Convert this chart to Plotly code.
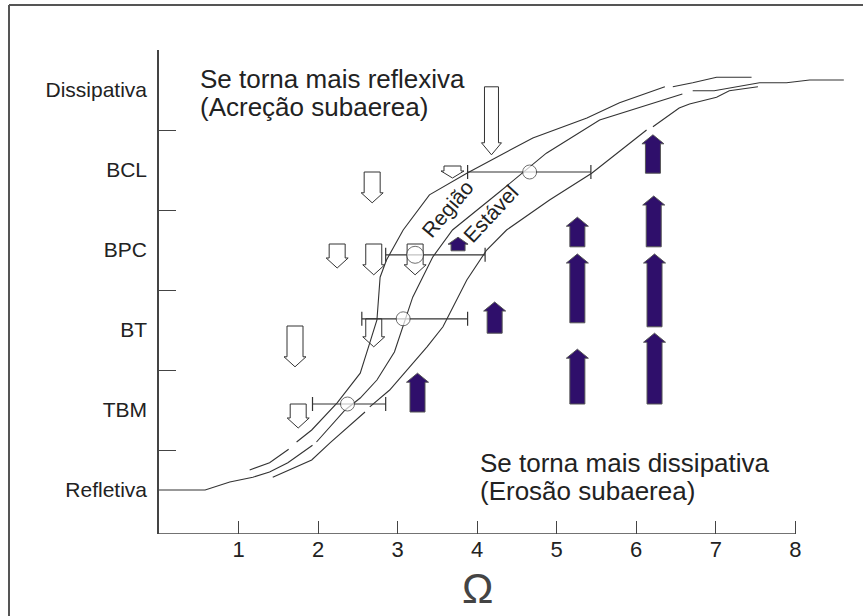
import plotly.graph_objects as go

# ---------------- data ----------------
state_labels = ["Refletiva", "TBM", "BT", "BPC", "BCL", "Dissipativa"]
state_vals = [0, 1, 2, 3, 4, 5]
x_ticks = [1, 2, 3, 4, 5, 6, 7, 8]
y_sep_ticks = [0.5, 1.5, 2.5, 3.5, 4.5, 5.5]

# three envelope curves (Omega vs. beach state), None = gap in line
mid_x = [0, 0.58, 0.89, 1.18, 1.39, 1.62, 1.93, None, 1.98, 2.34, 2.53, 2.74, 2.96, 3.09, 3.19, 3.44, 3.69,
         4.28, 4.87, 5.54, 6.58, None, 6.71, 6.98, 7.55, 7.89, 8.18, 8.61]
mid_y = [0, 0, 0.10, 0.16, 0.225, 0.34, 0.56, None, 0.60, 1.0, 1.15, 1.375, 1.725, 2.10, 2.41, 2.91, 3.25,
         3.725, 4.21, 4.625, 4.95, None, 4.99, 4.99, 5.09, 5.09, 5.125, 5.125]

left_x = [1.14, 1.39, 1.63, None, 1.73, 1.92, 2.24, 2.53, 2.65, 2.74, 2.78, 2.86, 3.07, 3.40, 3.87, 4.70,
          5.38, 5.79, 6.36, None, 6.46, 6.71, 7.01, 7.45]
left_y = [0.25, 0.34, 0.51, None, 0.60, 0.75, 1.09, 1.46, 1.84, 2.125, 2.66, 2.875, 3.25, 3.69, 3.96, 4.40,
          4.65, 4.84, 5.04, None, 5.04, 5.09, 5.16, 5.16]

right_x = [1.43, 1.92, 2.15, 2.59, None, 2.65, 2.90, 3.37, 3.57, 3.87, 4.12, 4.37, 4.91, 5.44, 6.13, None,
           6.21, 6.54, 6.67, 7.01, 7.17, 7.53]
right_y = [0.16, 0.375, 0.59, 0.975, None, 1.04, 1.25, 1.79, 2.04, 2.625, 3.0, 3.25, 3.625, 3.96, 4.50, None,
           4.54, 4.775, 4.825, 4.91, 4.99, 5.04]

# mean Omega per state with range
obs_x = [2.37, 3.07, 3.22, 4.66]
obs_y = [1.075, 2.14, 2.94, 3.975]
obs_lo = [1.93, 2.55, 2.85, 3.88]
obs_hi = [2.85, 3.88, 4.10, 5.43]

# white (down) arrows: x, tail y, tip y
down_x = [4.18, 3.69, 2.68, 2.24, 2.70, 3.22, 2.70, 1.71, 1.75]
down_tail = [5.04, 4.05, 3.975, 3.075, 3.075, 3.075, 2.14, 2.05, 1.075]
down_tip = [4.19, 3.90, 3.59, 2.775, 2.69, 2.69, 1.79, 1.54, 0.775]

# purple (up) arrows: x, tail y, tip y
up_x = [3.76, 4.22, 3.25, 5.26, 5.26, 5.26, 6.21, 6.22, 6.23, 6.23]
up_tail = [2.99, 1.96, 0.975, 2.09, 1.075, 3.04, 3.96, 3.04, 2.04, 1.075]
up_tip = [3.16, 2.35, 1.46, 2.95, 1.76, 3.41, 4.44, 3.675, 2.95, 1.96]

# ---------------- layout geometry ----------------
W, H = 863, 616
ML, MR, MT, MB = 159, 16, 50, 82
XR = [0, 8.65]
YR = [-0.55, 5.5]
PXX = (XR[1] - XR[0]) / (W - ML - MR)   # data units per pixel, x
PXY = (YR[1] - YR[0]) / (H - MT - MB)   # data units per pixel, y

FONT = "Liberation Sans, Arial, sans-serif"
LINE = "#333333"
PURPLE = "#2f0f6b"

# arrow style (pixels): shaft half width, head half width, head length
down_style = [(7, 10, 12)] + [(8.5, 11.5, 7)] + [(8, 11, 10)] * 7
up_style = [(7, 10, 7)] + [(7.5, 11, 9)] * 9


def arrow_poly(xc, yt, yp, sw, hw, hl):
    s = 1 if yp > yt else -1
    yn = yp - s * hl * PXY
    a, b = sw * PXX, hw * PXX
    xs = [xc - a, xc - a, xc - b, xc, xc + b, xc + a, xc + a, xc - a]
    ys = [yt, yn, yn, yp, yn, yn, yt, yt]
    return xs, ys


fig = go.Figure()

for xc, yt, yp, st in zip(down_x, down_tail, down_tip, down_style):
    xs, ys = arrow_poly(xc, yt, yp, *st)
    fig.add_trace(go.Scatter(x=xs, y=ys, mode="lines", fill="toself", fillcolor="white",
                             line=dict(color=LINE, width=1), hoverinfo="skip", showlegend=False))

for xc, yt, yp, st in zip(up_x, up_tail, up_tip, up_style):
    xs, ys = arrow_poly(xc, yt, yp, *st)
    fig.add_trace(go.Scatter(x=xs, y=ys, mode="lines", fill="toself", fillcolor=PURPLE,
                             line=dict(color="#555555", width=1), hoverinfo="skip", showlegend=False))

for cx, cy in [(mid_x, mid_y), (left_x, left_y), (right_x, right_y)]:
    fig.add_trace(go.Scatter(x=cx, y=cy, mode="lines", line=dict(color=LINE, width=1.1),
                             connectgaps=False, hoverinfo="skip", showlegend=False))

fig.add_trace(go.Scatter(
    x=obs_x, y=obs_y, mode="markers",
    marker=dict(symbol="circle", size=[14, 14, 17, 14], color="white", line=dict(color=LINE, width=1)),
    error_x=dict(type="data", symmetric=False,
                 array=[h - x for h, x in zip(obs_hi, obs_x)],
                 arrayminus=[x - l for l, x in zip(obs_lo, obs_x)],
                 color=LINE, thickness=1.2, width=7),
    hoverinfo="skip", showlegend=False))

# invisible trace to activate separator-tick axis
fig.add_trace(go.Scatter(x=[0], y=[0], yaxis="y2", mode="markers", marker=dict(opacity=0),
                         hoverinfo="skip", showlegend=False))

txt = dict(color="#222222", family=FONT)
ann = [
    dict(x=(198 - ML) * PXX, y=5.14, text="Se torna mais reflexiva", xanchor="left", yanchor="middle",
         font=dict(size=26, **txt)),
    dict(x=(198 - ML) * PXX, y=4.79, text="(Acreção subaerea)", xanchor="left", yanchor="middle",
         font=dict(size=26, **txt)),
    dict(x=4.01, y=0.34, text="Se torna mais dissipativa", xanchor="left", yanchor="middle",
         font=dict(size=26, **txt)),
    dict(x=4.01, y=-0.01, text="(Erosão subaerea)", xanchor="left", yanchor="middle",
         font=dict(size=26, **txt)),
    dict(x=3.63, y=3.52, text="Região", textangle=-50, xanchor="center", yanchor="middle",
         font=dict(size=21, **txt)),
    dict(x=4.17, y=3.46, text="Estável", textangle=-47, xanchor="center", yanchor="middle",
         font=dict(size=21, **txt)),
]
for a in ann:
    a.update(xref="x", yref="y", showarrow=False)
ann.append(dict(x=4.0, y=(H - MB - 588) / (H - MT - MB), xref="x", yref="paper", text="Ω",
                xanchor="center", yanchor="middle",
                showarrow=False, font=dict(size=42, color="#444444", family=FONT)))

shapes = [
    # x axis line (0..8)
    dict(type="line", xref="x", yref="y", x0=0, x1=8, y0=YR[0], y1=YR[0], line=dict(color="#444444", width=1.5)),
    # outer frame (top and left)
    dict(type="line", xref="paper", yref="paper", x0=(9 - ML) / (W - ML - MR), x1=1.2,
         y0=(H - MB - 5) / (H - MT - MB), y1=(H - MB - 5) / (H - MT - MB), line=dict(color="#555555", width=2)),
    dict(type="line", xref="paper", yref="paper", x0=(9 - ML) / (W - ML - MR), x1=(9 - ML) / (W - ML - MR),
         y0=(H - MB - 5) / (H - MT - MB), y1=-0.3, line=dict(color="#555555", width=2)),
]

fig.update_layout(
    width=W, height=H, margin=dict(l=ML, r=MR, t=MT, b=MB),
    paper_bgcolor="white", plot_bgcolor="white",
    annotations=ann, shapes=shapes,
    xaxis=dict(range=XR, showgrid=False, zeroline=False, showline=False,
               tickmode="array", tickvals=x_ticks, ticktext=[str(v) for v in x_ticks],
               ticks="inside", ticklen=13, tickwidth=1.2, tickcolor="#444444",
               tickfont=dict(size=22, color="#222222", family=FONT)),
    yaxis=dict(range=YR, showgrid=False, zeroline=False, showline=True, linecolor="#444444", linewidth=1.5,
               tickmode="array", tickvals=state_vals, ticktext=state_labels, ticks="",
               ticklabelstandoff=6,
               tickfont=dict(size=21, color="#222222", family=FONT)),
    yaxis2=dict(range=YR, overlaying="y", side="left", anchor="x", showgrid=False, zeroline=False,
                showline=False, tickmode="array", tickvals=y_sep_ticks, showticklabels=False,
                ticks="inside", ticklen=17, tickwidth=1.2, tickcolor="#444444"),
)

fig.write_html("out.html")
